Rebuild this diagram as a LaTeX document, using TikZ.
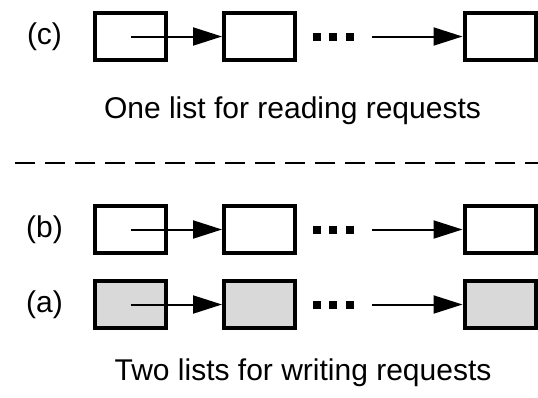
\documentclass[tikz,border=0pt]{standalone}
\usepackage{fontspec}
\setmainfont{Liberation Sans}
\usetikzlibrary{arrows.meta}
\begin{document}
\begin{tikzpicture}[x=1pt,y=-1pt,
    listbox/.style={draw,line width=4pt,minimum width=71pt,minimum height=47pt,inner sep=0pt},
    link/.style={line width=2pt,-{Triangle[length=29pt,width=18pt]}},
    lbl/.style={font=\fontsize{30}{32}\selectfont,inner sep=0pt}]
    \useasboundingbox (0,0) rectangle (538,397);
    % the three lists
    \foreach \r/\y/\f in {c/36.5/white, b/229.5/white, a/304.5/gray!30} {
      \node[lbl] (\r l) at (44.5,\y) {(\r)};
      \node[listbox,fill=\f] (\r1) at (130.5,\y) {};
      \node[listbox,fill=\f] (\r2) at (259.5,\y) {};
      \node[listbox,fill=\f] (\r3) at (500,\y) {};
      \foreach \d in {316.5,333,349.5}
        \fill (\d-4,\y-4) rectangle (\d+4,\y+4);
      \coordinate (\r s) at (372,\y);
      \draw[link] (\r1.center) -- (\r2);
      \draw[link] (\r s) -- (\r3);
    }
    \node[lbl,anchor=base] (read) at (292.5,118) {One list for reading requests};
    \node[lbl,anchor=base] (write) at (303,380) {Two lists for writing requests};
    % separator
    \coordinate (sepl) at (15,163);
    \coordinate (sepr) at (538,163);
    \draw[line width=2pt,dash pattern=on 20pt off 10pt] (sepl) -- (sepr);
\end{tikzpicture}
\end{document}
